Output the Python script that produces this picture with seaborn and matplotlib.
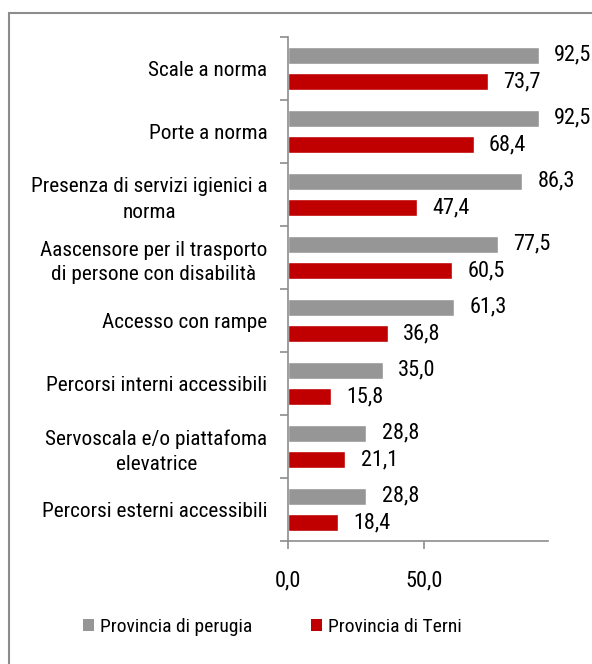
import numpy as np
import pandas as pd
import seaborn as sns
import matplotlib.pyplot as plt
from matplotlib import font_manager
from matplotlib.patches import Rectangle, Patch

categories = [
    "Scale a norma",
    "Porte a norma",
    "Presenza di servizi igienici a\nnorma",
    "Aascensore per il trasporto\ndi persone con disabilità",
    "Accesso con rampe",
    "Percorsi interni accessibili",
    "Servoscala e/o piattafoma\nelevatrice",
    "Percorsi esterni accessibili",
]
perugia = [92.5, 92.5, 86.3, 77.5, 61.3, 35.0, 28.8, 28.8]
terni = [73.7, 68.4, 47.4, 60.5, 36.8, 15.8, 21.1, 18.4]
series_names = ["Provincia di perugia", "Provincia di Terni"]
x_ticks = [0, 50]
x_tick_labels = ["0,0", "50,0"]

palette = {"Provincia di perugia": "#969696", "Provincia di Terni": "#C00000"}
axis_color = "#8C8C8C"

sns.set_theme(style="white")
available = {f.name for f in font_manager.fontManager.ttflist}
font_pref = [f for f in ["Liberation Sans Narrow", "Arial Narrow", "Roboto Condensed",
                         "Archivo Narrow", "Liberation Sans", "DejaVu Sans"] if f in available]
plt.rcParams["font.family"] = font_pref
plt.rcParams["text.color"] = "black"
plt.rcParams["xtick.color"] = "black"
plt.rcParams["ytick.color"] = "black"

df = pd.DataFrame({
    "categoria": categories * 2,
    "valore": perugia + terni,
    "provincia": [series_names[0]] * len(categories) + [series_names[1]] * len(categories),
})

W, H = 592, 664
fig = plt.figure(figsize=(W / 100, H / 100), dpi=100)
ax = fig.add_axes([288.3 / W, 1 - 541 / H, 259.4 / W, 504 / H])

sns.barplot(data=df, y="categoria", x="valore", hue="provincia", order=categories,
            hue_order=series_names, palette=palette, orient="h", width=0.83,
            gap=0.33, saturation=1, legend=False, ax=ax)

ax.set_xlim(0, 95.8)
ax.set_ylim(len(categories) - 0.5, -0.5)
ax.set_xlabel("")
ax.set_ylabel("")

# value labels at the end of each bar
for container, vals in zip(ax.containers, [perugia, terni]):
    ax.bar_label(container, labels=[f"{v:.1f}".replace(".", ",") for v in vals],
                 padding=11, fontsize=16, color="black")

# category labels centred on groups, ticks on group boundaries
ax.set_yticks(np.arange(-0.5, len(categories), 1))
ax.set_yticklabels([])
ax.set_yticks(np.arange(len(categories)), minor=True)
ax.set_yticklabels(categories, minor=True, fontsize=15.3)
for lbl in ax.get_yticklabels(minor=True):
    lbl.set_multialignment("center")
    lbl.set_linespacing(1.4)
    lbl.set_color("black")
ax.tick_params(axis="y", which="major", direction="out", length=6, width=1.2,
               color=axis_color, left=True)
ax.tick_params(axis="y", which="minor", length=0, pad=15, left=True)

ax.set_xticks(x_ticks)
ax.set_xticklabels(x_tick_labels, fontsize=16, color="black")
ax.tick_params(axis="x", direction="out", length=6, width=1.2, color=axis_color,
               pad=15, bottom=True)

for side in ["top", "right"]:
    ax.spines[side].set_visible(False)
for side in ["left", "bottom"]:
    ax.spines[side].set_color(axis_color)
    ax.spines[side].set_linewidth(1.2)

handles = [Patch(facecolor=palette[n], edgecolor="none") for n in series_names]
leg = fig.legend(handles, series_names, loc="center left",
                 bbox_to_anchor=(65 / W, 1 - 627 / H), ncol=2, frameon=False,
                 fontsize=14, handlelength=0.6, handleheight=0.6, handletextpad=0.3,
                 columnspacing=3.0)
for t in leg.get_texts():
    t.set_color("black")

# outer frame
fig.patches.append(Rectangle((9 / W, -0.05), 1.2, 1.05 - 13 / H,
                             transform=fig.transFigure, fill=False,
                             edgecolor="#8C8C8C", linewidth=1.5))

fig.savefig("out.png", dpi=100)
